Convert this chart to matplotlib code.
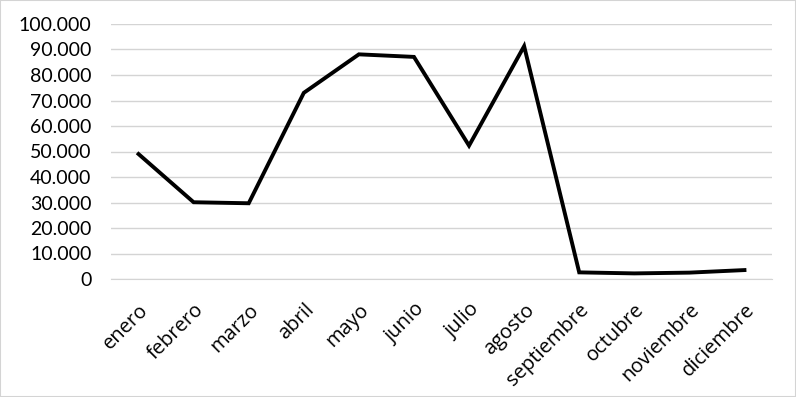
import matplotlib
matplotlib.use("Agg")
import matplotlib.pyplot as plt
from matplotlib.ticker import FuncFormatter, MultipleLocator
from matplotlib.patches import Rectangle

months = ["enero", "febrero", "marzo", "abril", "mayo", "junio", "julio",
          "agosto", "septiembre", "octubre", "noviembre", "diciembre"]
values = [49000, 30100, 29700, 73000, 88100, 87100, 52300, 91300,
          2600, 2200, 2500, 3500]

plt.rcParams['font.family'] = ['Lato', 'DejaVu Sans']

fig = plt.figure(figsize=(7.96, 3.97), dpi=100)
ax = fig.add_axes([111/796, 1-279/397, (772-111)/796, (279-24)/397])

x = list(range(len(months)))
ax.plot(x, values, color='black', lw=2.8, solid_joinstyle='miter', zorder=3)
ax.set_xlim(-0.5, len(months)-0.5)
ax.set_ylim(0, 100000)
ax.yaxis.set_major_locator(MultipleLocator(10000))
ax.yaxis.set_major_formatter(FuncFormatter(lambda v, p: f"{int(v):,}".replace(",", ".")))
ax.grid(axis='y', color='#d4d4d4', lw=1)
ax.set_axisbelow(True)
for s in ['top', 'right', 'left']:
    ax.spines[s].set_visible(False)
ax.spines['bottom'].set_color('#d4d4d4')
ax.tick_params(axis='both', length=0, colors='black')
ax.tick_params(axis='y', pad=14, labelsize=14)
ax.set_xticks(x)
ax.set_xticklabels(months, rotation=45, ha='right', rotation_mode='anchor',
                   fontsize=14.5, family=['Open Sans', 'DejaVu Sans'])
ax.tick_params(axis='x', pad=15)

fig.patches.append(Rectangle((0, 0), 1, 1, transform=fig.transFigure,
                             fill=False, edgecolor='#d4d4d4', lw=1.5))
fig.savefig("out.png", dpi=100)
